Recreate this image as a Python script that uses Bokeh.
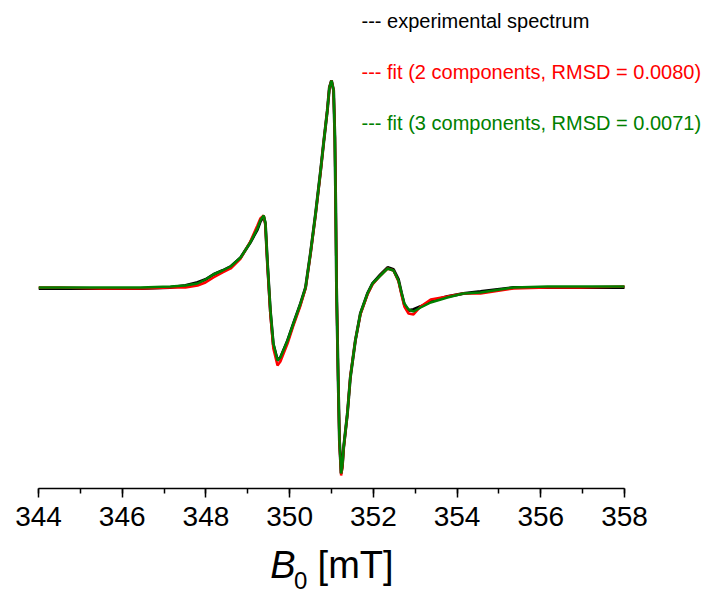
from bokeh.plotting import figure
from bokeh.models import Range1d, Label, FixedTicker
from bokeh.layouts import column
from bokeh.core.properties import value
from bokeh.embed import file_html
from bokeh.resources import INLINE

# Magnetic field B0 [mT]
field = [344.00, 344.53, 345.48, 346.44, 347.15, 347.51, 347.80, 347.99, 348.18, 348.40,
         348.59, 348.83, 349.06, 349.23, 349.30, 349.38, 349.42, 349.47, 349.54, 349.61,
         349.71, 349.78, 349.95, 350.09, 350.26, 350.38, 350.50, 350.62, 350.74, 350.81,
         350.90, 350.95, 351.00, 351.05, 351.08, 351.10, 351.12, 351.16, 351.19, 351.23,
         351.26, 351.29, 351.38, 351.45, 351.57, 351.69, 351.86, 351.98, 352.17, 352.34,
         352.48, 352.60, 352.67, 352.74, 352.84, 352.96, 353.13, 353.37, 353.77, 354.15,
         354.56, 355.35, 356.16, 356.95, 358.00]

# EPR signal (arbitrary units)
experimental = [-0.01, -0.01, -0.01, -0.01, 0.00, 0.02, 0.05, 0.08, 0.13, 0.17,
                0.21, 0.30, 0.45, 0.58, 0.66, 0.71, 0.64, 0.24, -0.24, -0.57,
                -0.73, -0.70, -0.53, -0.36, -0.16, 0.00, 0.35, 0.74, 1.17, 1.44,
                1.77, 2.00, 2.07, 1.97, 1.50, 0.84, 0.00, -0.93, -1.53, -1.86,
                -1.78, -1.60, -1.26, -0.90, -0.53, -0.26, -0.06, 0.04, 0.13, 0.20,
                0.18, 0.08, -0.05, -0.17, -0.23, -0.22, -0.19, -0.14, -0.09, -0.06,
                -0.04, 0.00, 0.00, 0.00, 0.00]

fit_2comp = [0.00, 0.00, -0.01, -0.01, 0.00, 0.00, 0.02, 0.05, 0.10, 0.15,
             0.19, 0.29, 0.46, 0.62, 0.69, 0.72, 0.63, 0.22, -0.27, -0.61,
             -0.78, -0.74, -0.56, -0.38, -0.18, -0.01, 0.34, 0.73, 1.16, 1.44,
             1.77, 2.00, 2.07, 1.97, 1.50, 0.84, 0.00, -0.94, -1.55, -1.88,
             -1.80, -1.61, -1.26, -0.89, -0.53, -0.27, -0.07, 0.03, 0.12, 0.19,
             0.17, 0.06, -0.07, -0.19, -0.26, -0.27, -0.19, -0.12, -0.09, -0.06,
             -0.06, -0.01, 0.00, 0.00, 0.01]

fit_3comp = [0.00, 0.00, 0.00, 0.00, 0.01, 0.02, 0.04, 0.08, 0.13, 0.17,
             0.21, 0.30, 0.45, 0.59, 0.67, 0.72, 0.65, 0.25, -0.23, -0.56,
             -0.73, -0.70, -0.53, -0.36, -0.16, 0.00, 0.35, 0.74, 1.17, 1.44,
             1.77, 2.00, 2.07, 1.97, 1.50, 0.84, 0.00, -0.93, -1.53, -1.86,
             -1.78, -1.60, -1.26, -0.90, -0.53, -0.26, -0.06, 0.04, 0.12, 0.19,
             0.17, 0.07, -0.05, -0.16, -0.22, -0.24, -0.20, -0.15, -0.10, -0.06,
             -0.05, 0.00, 0.01, 0.01, 0.01]

x_ticks = [344, 346, 348, 350, 352, 354, 356, 358]
legend_texts = ["--- experimental spectrum",
                "--- fit (2 components, RMSD = 0.0080)",
                "--- fit (3 components, RMSD = 0.0071)"]
legend_colors = ["#000000", "#FF0000", "#008000"]
legend_y = [2.67, 2.16, 1.65]

p = figure(width=705, height=544, output_backend="svg", toolbar_location=None,
           x_range=Range1d(344, 359.935), y_range=Range1d(-2.01, 2.87),
           min_border_left=38, min_border_right=0, min_border_top=0,
           min_border_bottom=56)
p.outline_line_color = None
p.xgrid.visible = False
p.ygrid.visible = False
p.yaxis.visible = False

p.line(field, experimental, line_color="#000000", line_width=3)
p.line(field, fit_2comp, line_color="#FF0000", line_width=2.5)
p.line(field, fit_3comp, line_color="#008000", line_width=2.5)

ax = p.xaxis[0]
ax.bounds = (344, 358)
ax.ticker = FixedTicker(ticks=x_ticks, minor_ticks=list(range(344, 359)))
ax.axis_line_width = 1.5
ax.major_tick_line_width = 1.5
ax.minor_tick_line_width = 1.5
ax.major_tick_in = 0
ax.major_tick_out = 9
ax.minor_tick_in = 0
ax.minor_tick_out = 5
ax.major_label_standoff = 9
ax.major_label_text_font = "Liberation Sans"
ax.major_label_text_font_size = "28px"
ax.major_label_text_color = "black"

for txt, col, yy in zip(legend_texts, legend_colors, legend_y):
    p.add_layout(Label(x=351.717, y=yy, text=txt, text_color=col,
                       text_font="Liberation Sans", text_font_size="20px",
                       text_align="left", text_baseline="alphabetic"))

# axis title strip: B0 [mT]
p2 = figure(width=705, height=48, output_backend="svg", toolbar_location=None,
            x_range=Range1d(0, 705), y_range=Range1d(0, 48),
            x_axis_location=None, y_axis_location=None,
            min_border_left=0, min_border_right=0, min_border_top=0,
            min_border_bottom=0)
p2.outline_line_color = None
p2.xgrid.visible = False
p2.ygrid.visible = False
p2.text(x=[245], y=[28], text=["B"], text_font=value("Liberation Sans"),
        text_font_style="italic", text_font_size="38px", text_color="black",
        text_align="left", text_baseline="alphabetic")
p2.text(x=[270], y=[12], text=["0"], text_font=value("Liberation Sans"),
        text_font_size="24px", text_color="black",
        text_align="left", text_baseline="alphabetic")
p2.text(x=[295], y=[28], text=["[mT]"], text_font=value("Liberation Sans"),
        text_font_size="38px", text_color="black",
        text_align="left", text_baseline="alphabetic")

open("out.html", "w").write(file_html(column(p, p2), INLINE))
